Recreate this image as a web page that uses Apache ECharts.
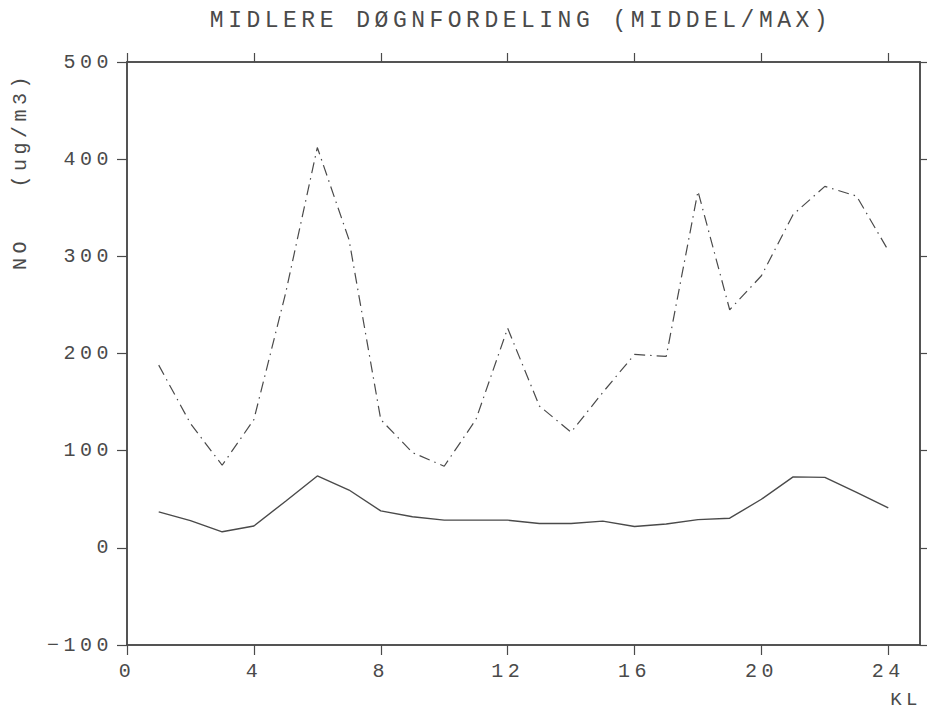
<!DOCTYPE html>
<html>
<head>
<meta charset="utf-8">
<script src="https://cdn.jsdelivr.net/npm/echarts@6/dist/echarts.min.js"></script>
<style>
  html, body { margin: 0; padding: 0; background: #fff; }
  #chart { width: 927px; height: 712px; }
  #chart text { letter-spacing: 4.5px; }
</style>
</head>
<body>
<div id="chart"></div>
<script>
const titleText = 'MIDLERE DØGNFORDELING (MIDDEL/MAX)';
const yName = 'NO   (ug/m3)';
const xName = 'KL';
const hours = [1,2,3,4,5,6,7,8,9,10,11,12,13,14,15,16,17,18,19,20,21,22,23,24];
const middel = [37, 28, 16.5, 22.5, 48, 74, 59.5, 38, 32, 28.5, 28.5, 28.5, 25, 25, 27.5, 22, 24.5, 29, 30.5, 50, 73, 72.5, 57, 41];
const maks = [188, 128, 85, 132, 262, 412, 317, 132, 98, 84, 132, 226, 146, 119, 160, 199, 197, 367, 245, 280, 343, 372, 362, 306];
const xTicks = [0, 4, 8, 12, 16, 20, 24];
const yTicks = [-100, 0, 100, 200, 300, 400, 500];

const ink = '#4a4a4a';
const font = 'Liberation Mono, Courier New, monospace';

const chart = echarts.init(document.getElementById('chart'), null, { renderer: 'svg' });
chart.setOption({
  backgroundColor: '#fff',
  animation: false,
  grid: { left: 127, right: 7, top: 62, bottom: 67, show: true, borderColor: ink, borderWidth: 1.5, backgroundColor: 'transparent' },
  graphic: [
    { type: 'text', x: 521, y: 21, style: { text: titleText, font: '23px ' + font, fill: ink, align: 'center', verticalAlign: 'middle' } },
    { type: 'text', x: 20, y: 171, rotation: Math.PI / 2, style: { text: yName, font: '20px ' + font, fill: ink, align: 'center', verticalAlign: 'middle' } },
    { type: 'text', x: 922, y: 700, style: { text: xName, font: '19px ' + font, fill: ink, align: 'right', verticalAlign: 'middle' } }
  ],
  xAxis: [
    {
      type: 'value', min: 0, max: 25, position: 'bottom',
      axisLine: { show: true, onZero: false, lineStyle: { color: ink, width: 1.5 } },
      axisTick: { show: true, inside: false, length: 10, customValues: xTicks, lineStyle: { color: ink, width: 1.2 } },
      axisLabel: { show: true, margin: 16, customValues: xTicks, color: ink, fontSize: 20, fontFamily: font },
      splitLine: { show: false }
    },
    {
      type: 'value', min: 0, max: 25, position: 'top',
      axisLine: { show: true, onZero: false, lineStyle: { color: ink, width: 1.5 } },
      axisTick: { show: true, inside: false, length: 9, customValues: xTicks, lineStyle: { color: ink, width: 1.2 } },
      axisLabel: { show: false },
      splitLine: { show: false }
    }
  ],
  yAxis: [
    {
      type: 'value', min: -100, max: 500, interval: 100, position: 'left',
      axisLine: { show: true, onZero: false, lineStyle: { color: ink, width: 1.5 } },
      axisTick: { show: true, inside: false, length: 10, customValues: yTicks, lineStyle: { color: ink, width: 1.2 } },
      axisLabel: { show: true, margin: 14, customValues: yTicks, color: ink, fontSize: 20, fontFamily: font,
                   formatter: v => (v < 0 ? '\u2212' + Math.abs(v) : String(v)) },
      splitLine: { show: false }
    },
    {
      type: 'value', min: -100, max: 500, interval: 100, position: 'right',
      axisLine: { show: true, onZero: false, lineStyle: { color: ink, width: 1.5 } },
      axisTick: { show: true, inside: false, length: 8, customValues: yTicks, lineStyle: { color: ink, width: 1.2 } },
      axisLabel: { show: false },
      splitLine: { show: false }
    }
  ],
  series: [
    {
      name: 'MIDDEL', type: 'line', xAxisIndex: 0, yAxisIndex: 0,
      data: hours.map((h, i) => [h, middel[i]]),
      showSymbol: false, symbol: 'none',
      lineStyle: { color: ink, width: 1.4, type: 'solid' }
    },
    {
      name: 'MAX', type: 'line', xAxisIndex: 0, yAxisIndex: 0,
      data: hours.map((h, i) => [h, maks[i]]),
      showSymbol: false, symbol: 'none',
      lineStyle: { color: ink, width: 1.2, type: [11, 5, 1.5, 5] }
    }
  ]
});
</script>
</body>
</html>
